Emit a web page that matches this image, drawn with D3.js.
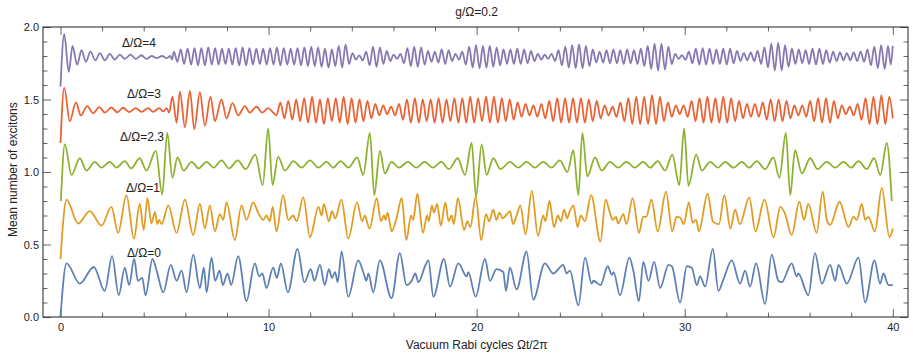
<!DOCTYPE html>
<html>
<head>
<meta charset="utf-8">
<script src="https://cdn.jsdelivr.net/npm/d3@7"></script>
<style>
body { margin: 0; background: #fff; }
svg { display: block; font-family: "Liberation Sans", Arial, sans-serif; }
</style>
</head>
<body>
<div id="chart-area"></div>
<script>
// values: [t (Rabi cycles), mean number]
let seriesD0 = [[0,0],[0.29,0.37],[0.93,0.23],[1.60,0.345],[2.13,0.18],[2.48,0.42],[2.80,0.15],[3.09,0.34],[3.30,0.22],[3.54,0.40],[3.72,0.25],[3.93,0.27],[4.09,0.15],[4.42,0.40],[4.62,0.32],[4.94,0.17],[5.30,0.36],[5.58,0.25],[5.82,0.32],[6.06,0.17],[6.38,0.43],[6.70,0.20],[6.89,0.34],[7.02,0.17],[7.26,0.41],[7.43,0.25],[7.65,0.32],[7.80,0.22],[8.03,0.30],[8.20,0.22],[8.54,0.42],[8.94,0.11],[9.34,0.37],[9.55,0.28],[9.70,0.30],[9.90,0.20],[10.22,0.34],[10.40,0.27],[10.59,0.37],[10.93,0.17],[11.39,0.47],[11.72,0.24],[12.03,0.33],[12.20,0.25],[12.47,0.36],[12.70,0.22],[12.90,0.33],[13.05,0.27],[13.20,0.31],[13.32,0.24],[13.51,0.45],[13.83,0.14],[14.31,0.39],[14.55,0.31],[14.70,0.25],[14.80,0.30],[15.03,0.17],[15.35,0.39],[15.91,0.13],[16.31,0.44],[16.63,0.22],[16.88,0.25],[17.05,0.30],[17.20,0.24],[17.55,0.36],[17.68,0.39],[17.92,0.14],[18.43,0.40],[18.72,0.21],[19.12,0.37],[19.52,0.28],[19.60,0.31],[19.95,0.14],[20.40,0.40],[20.64,0.25],[20.96,0.33],[21.28,0.31],[21.41,0.18],[21.60,0.34],[21.92,0.19],[22.40,0.45],[22.72,0.12],[23.28,0.37],[23.68,0.30],[24.16,0.36],[24.32,0.30],[24.48,0.32],[24.89,0.08],[25.21,0.41],[25.53,0.23],[25.61,0.25],[25.95,0.22],[26.30,0.35],[26.50,0.29],[26.58,0.31],[26.89,0.15],[27.34,0.41],[27.53,0.32],[27.80,0.11],[28.01,0.38],[28.26,0.25],[28.53,0.38],[28.82,0.20],[29.22,0.36],[29.38,0.35],[29.78,0.10],[30.10,0.35],[30.34,0.34],[30.58,0.22],[30.74,0.28],[30.98,0.21],[31.35,0.47],[31.62,0.18],[31.86,0.26],[32.26,0.39],[32.66,0.23],[32.90,0.32],[33.14,0.21],[33.43,0.37],[33.86,0.09],[34.18,0.43],[34.50,0.25],[34.66,0.24],[35.14,0.37],[35.38,0.28],[35.46,0.30],[35.94,0.15],[36.26,0.44],[36.59,0.23],[36.99,0.36],[37.23,0.25],[37.39,0.36],[37.79,0.23],[38.35,0.41],[38.67,0.10],[39.12,0.39],[39.39,0.23],[39.55,0.30],[39.79,0.22],[40.0,0.22]];

let seriesD1 = [[0,0.40],[0.29,0.81],[0.85,0.645],[1.41,0.73],[1.97,0.63],[2.45,0.76],[2.77,0.58],[3.17,0.84],[3.53,0.54],[3.81,0.78],[4.00,0.60],[4.18,0.82],[4.37,0.645],[4.54,0.725],[4.65,0.64],[4.74,0.67],[4.86,0.64],[5.18,0.77],[5.58,0.58],[5.98,0.81],[6.38,0.565],[6.70,0.78],[6.94,0.61],[7.18,0.77],[7.42,0.59],[7.66,0.71],[7.82,0.67],[7.98,0.79],[8.38,0.53],[8.70,0.77],[8.94,0.67],[9.26,0.79],[9.50,0.72],[9.75,0.67],[9.90,0.70],[10.06,0.66],[10.20,0.76],[10.38,0.59],[10.70,0.84],[10.95,0.67],[11.18,0.70],[11.35,0.66],[11.67,0.825],[11.99,0.55],[12.40,0.76],[12.55,0.70],[12.66,0.78],[12.90,0.66],[13.05,0.73],[13.20,0.68],[13.50,0.81],[13.83,0.54],[14.25,0.79],[14.50,0.66],[14.62,0.70],[14.85,0.61],[15.20,0.82],[15.40,0.66],[15.55,0.70],[15.62,0.67],[15.72,0.72],[15.92,0.59],[16.15,0.68],[16.40,0.82],[16.62,0.53],[16.85,0.70],[16.95,0.67],[17.15,0.85],[17.42,0.58],[17.62,0.70],[17.70,0.66],[17.85,0.77],[17.95,0.72],[18.10,0.78],[18.28,0.63],[18.50,0.79],[18.65,0.66],[18.80,0.70],[18.90,0.64],[19.10,0.82],[19.40,0.60],[19.55,0.66],[19.70,0.62],[19.95,0.83],[20.22,0.53],[20.45,0.71],[20.60,0.66],[20.80,0.74],[20.95,0.67],[21.10,0.72],[21.25,0.68],[21.40,0.70],[21.60,0.73],[21.75,0.64],[21.92,0.70],[22.10,0.77],[22.35,0.57],[22.65,0.87],[22.95,0.56],[23.20,0.70],[23.30,0.66],[23.50,0.80],[23.72,0.62],[23.90,0.70],[24.05,0.66],[24.20,0.74],[24.35,0.68],[24.45,0.72],[24.65,0.77],[24.85,0.62],[25.00,0.70],[25.20,0.66],[25.50,0.84],[25.95,0.52],[26.20,0.81],[26.40,0.72],[26.55,0.67],[26.70,0.69],[26.80,0.645],[27.05,0.71],[27.20,0.64],[27.50,0.82],[27.80,0.58],[28.00,0.69],[28.15,0.69],[28.40,0.81],[28.70,0.59],[29.10,0.865],[29.40,0.59],[29.60,0.69],[29.78,0.685],[29.95,0.64],[30.20,0.79],[30.38,0.65],[30.55,0.67],[30.68,0.59],[31.10,0.85],[31.35,0.66],[31.50,0.645],[31.65,0.64],[31.90,0.84],[32.20,0.61],[32.42,0.74],[32.65,0.64],[33.10,0.825],[33.40,0.59],[33.83,0.81],[34.27,0.55],[34.59,0.76],[34.80,0.72],[35.14,0.565],[35.51,0.795],[35.73,0.67],[35.94,0.78],[36.34,0.58],[36.63,0.865],[36.83,0.67],[36.99,0.635],[37.44,0.795],[37.87,0.62],[38.11,0.69],[38.27,0.67],[38.51,0.78],[38.67,0.67],[38.83,0.69],[39.14,0.59],[39.47,0.89],[39.84,0.55],[40.0,0.61]];

let seriesD23 = [[0.02,0.80],[0.21,1.19],[0.53,0.98],[0.93,1.095],[1.25,1.01],[1.65,1.07],[1.97,1.03],[2.37,1.07],[2.69,1.03],[3.09,1.075],[3.40,1.025],[3.81,1.095],[4.13,1.01],[4.58,1.145],[4.89,0.845],[5.13,1.27],[5.38,0.96],[5.62,1.10],[5.92,1.01],[6.30,1.07],[6.64,1.025],[7.02,1.07],[7.36,1.03],[7.74,1.08],[8.10,1.025],[8.52,1.08],[8.90,1.02],[9.36,1.12],[9.72,0.91],[9.98,1.30],[10.19,0.91],[10.46,1.105],[10.79,1.01],[11.19,1.075],[11.59,1.03],[11.99,1.08],[12.39,1.03],[12.79,1.07],[13.11,1.03],[13.46,1.075],[13.84,1.03],[14.26,1.10],[14.55,0.98],[14.87,1.27],[15.08,0.84],[15.35,1.145],[15.59,0.99],[15.91,1.07],[16.27,1.03],[16.70,1.07],[17.10,1.03],[17.50,1.07],[17.90,1.03],[18.30,1.07],[18.67,1.02],[19.09,1.095],[19.44,0.98],[19.76,1.20],[19.97,0.83],[20.24,1.19],[20.48,0.98],[20.80,1.095],[21.14,1.02],[21.60,1.07],[22.00,1.03],[22.40,1.07],[22.80,1.03],[23.20,1.07],[23.60,1.03],[24.00,1.08],[24.36,1.00],[24.65,1.15],[24.89,0.84],[25.08,1.27],[25.32,0.97],[25.69,1.10],[26.01,1.01],[26.41,1.07],[26.80,1.03],[27.20,1.07],[27.60,1.03],[28.00,1.07],[28.35,1.03],[28.70,1.075],[29.06,1.01],[29.40,1.12],[29.74,0.91],[29.97,1.30],[30.18,0.905],[30.55,1.12],[30.82,1.01],[31.22,1.07],[31.60,1.03],[31.94,1.07],[32.35,1.03],[32.74,1.07],[33.10,1.03],[33.46,1.075],[33.86,1.02],[34.26,1.10],[34.55,0.96],[34.86,1.27],[35.07,0.84],[35.30,1.15],[35.63,0.99],[36.03,1.095],[36.38,1.02],[36.83,1.07],[37.23,1.03],[37.63,1.07],[38.00,1.03],[38.35,1.075],[38.75,1.02],[39.10,1.095],[39.40,0.98],[39.71,1.20],[39.95,0.80]];

let seriesD3 = [[0,1.20],[0.18,1.58],[0.45,1.35],[0.74,1.48],[0.98,1.39],[1.28,1.455],[1.57,1.405],[1.86,1.447],[2.13,1.41],[2.45,1.445],[2.73,1.412],[3.01,1.443],[3.30,1.413],[3.62,1.44],[3.90,1.415],[4.21,1.44],[4.46,1.415],[4.74,1.44],[4.95,1.418],[5.10,1.44],[5.22,1.41],[5.38,1.52],[5.58,1.34],[5.74,1.555],[5.98,1.31],[6.22,1.56],[6.43,1.295],[6.70,1.55],[6.94,1.32],[7.21,1.52],[7.42,1.35],[7.74,1.50],[7.98,1.37],[8.27,1.475],[8.54,1.39],[8.86,1.455],[9.10,1.41],[9.42,1.45],[9.70,1.41],[9.98,1.44],[10.22,1.41],[10.38,1.39],
  [10.57,1.48],[10.76,1.37],[10.95,1.49],[11.14,1.36],[11.33,1.50],[11.52,1.35],[11.71,1.51],[11.90,1.34],[12.09,1.52],[12.28,1.34],[12.47,1.50],[12.66,1.33],[12.85,1.51],[13.04,1.35],[13.23,1.51],[13.42,1.34],[13.61,1.52],[13.80,1.33],[13.99,1.51],[14.18,1.34],[14.37,1.50],[14.56,1.35],[14.75,1.49],[14.94,1.37],[15.13,1.47],[15.32,1.39],[15.51,1.46],[15.70,1.40],[15.89,1.45],[16.08,1.39],[16.27,1.47],[16.46,1.36],[16.65,1.50],[16.84,1.34],[17.03,1.51],[17.22,1.34],[17.41,1.50],[17.60,1.35],[17.79,1.50],[17.98,1.34],[18.17,1.51],[18.36,1.34],[18.55,1.50],[18.74,1.35],[18.93,1.51],[19.12,1.34],[19.31,1.51],[19.50,1.34],[19.69,1.52],[19.88,1.34],[20.07,1.51],[20.26,1.35],[20.45,1.52],[20.64,1.34],[20.83,1.52],[21.02,1.34],[21.21,1.51],[21.40,1.35],[21.59,1.50],[21.78,1.36],[21.97,1.48],[22.16,1.38],[22.35,1.47],[22.54,1.39],[22.73,1.46],[22.92,1.38],[23.11,1.47],[23.30,1.37],[23.49,1.49],[23.68,1.35],[23.87,1.51],[24.06,1.34],[24.25,1.51],[24.44,1.34],[24.63,1.51],[24.82,1.34],[25.01,1.51],[25.20,1.34],[25.39,1.50],[25.58,1.35],[25.77,1.49],[25.96,1.37],[26.15,1.46],[26.34,1.39],[26.53,1.45],[26.72,1.38],[26.91,1.48],[27.10,1.35],[27.29,1.51],[27.48,1.33],[27.67,1.52],[27.86,1.33],[28.05,1.52],[28.24,1.33],[28.43,1.53],[28.62,1.33],[28.81,1.52],[29.00,1.35],[29.19,1.48],[29.38,1.38],[29.57,1.46],[29.76,1.40],[29.95,1.46],[30.14,1.38],[30.33,1.49],[30.52,1.35],[30.71,1.51],[30.90,1.34],[31.09,1.52],[31.28,1.34],[31.47,1.51],[31.66,1.34],[31.85,1.52],[32.04,1.34],[32.23,1.51],[32.42,1.35],[32.61,1.49],[32.80,1.37],[32.99,1.47],[33.18,1.38],[33.37,1.47],[33.56,1.38],[33.75,1.48],[33.94,1.36],[34.13,1.50],[34.32,1.35],[34.51,1.50],[34.70,1.35],[34.89,1.49],[35.08,1.37],[35.27,1.46],[35.46,1.39],[35.65,1.46],[35.84,1.38],[36.03,1.49],[36.22,1.35],[36.41,1.51],[36.60,1.34],[36.79,1.51],[36.98,1.34],[37.17,1.49],[37.36,1.37],[37.55,1.46],[37.74,1.40],[37.93,1.45],[38.12,1.39],[38.31,1.47],[38.50,1.36],[38.69,1.51],[38.88,1.33],[39.07,1.52],[39.26,1.33],[39.45,1.53],[39.64,1.33],[39.83,1.52],[40.0,1.37]];

let seriesD4 = [[0,1.59],[0.18,1.95],[0.40,1.69],[0.58,1.87],[0.80,1.74],[1.01,1.84],[1.22,1.76],[1.44,1.83],[1.68,1.77],[1.89,1.82],[2.13,1.77],[2.37,1.815],[2.61,1.775],[2.85,1.81],[3.09,1.78],[3.37,1.81],[3.62,1.78],[3.89,1.805],[4.13,1.78],[4.38,1.80],[4.62,1.785],[4.89,1.80],[5.10,1.785],[5.28,1.80],[5.36,1.775],
  [5.45,1.83],[5.62,1.76],[5.78,1.845],[5.94,1.745],[6.11,1.85],[6.28,1.74],[6.44,1.855],[6.61,1.735],[6.77,1.855],[6.94,1.735],[7.10,1.86],[7.27,1.74],[7.43,1.855],[7.60,1.74],[7.76,1.85],[7.93,1.745],[8.09,1.85],[8.26,1.74],[8.42,1.855],[8.59,1.735],[8.75,1.86],[8.92,1.735],[9.08,1.855],[9.25,1.74],[9.41,1.85],[9.58,1.745],[9.74,1.85],[9.91,1.74],[10.07,1.855],[10.24,1.74],[10.40,1.86],[10.57,1.735],[10.73,1.855],[10.90,1.74],[11.06,1.85],[11.23,1.74],[11.39,1.855],[11.56,1.735],[11.72,1.86],[11.89,1.73],[12.05,1.865],[12.22,1.73],[12.38,1.86],[12.55,1.725],[12.71,1.85],[12.88,1.72],[13.04,1.845],[13.21,1.73],[13.37,1.87],[13.54,1.72],[13.70,1.88],[13.87,1.745],[14.03,1.82],[14.20,1.775],[14.36,1.805],[14.53,1.77],[14.69,1.83],[14.86,1.735],[15.02,1.865],[15.19,1.725],[15.35,1.86],[15.52,1.745],[15.68,1.835],[15.85,1.765],[16.01,1.81],[16.18,1.78],[16.34,1.815],[16.51,1.75],[16.67,1.855],[16.84,1.73],[17.00,1.865],[17.17,1.725],[17.33,1.86],[17.50,1.74],[17.66,1.835],[17.83,1.76],[17.99,1.83],[18.16,1.755],[18.32,1.845],[18.49,1.745],[18.65,1.84],[18.82,1.765],[18.98,1.815],[19.15,1.775],[19.31,1.83],[19.48,1.74],[19.64,1.865],[19.81,1.72],[19.97,1.875],[20.14,1.715],[20.30,1.87],[20.47,1.72],[20.63,1.87],[20.80,1.725],[20.96,1.86],[21.13,1.735],[21.29,1.845],[21.46,1.745],[21.62,1.845],[21.79,1.745],[21.95,1.85],[22.12,1.745],[22.28,1.845],[22.45,1.75],[22.61,1.835],[22.78,1.765],[22.94,1.815],[23.11,1.775],[23.27,1.81],[23.44,1.78],[23.60,1.815],[23.77,1.765],[23.93,1.84],[24.10,1.735],[24.26,1.865],[24.43,1.72],[24.59,1.875],[24.76,1.715],[24.92,1.88],[25.09,1.715],[25.25,1.87],[25.42,1.73],[25.58,1.845],[25.75,1.755],[25.91,1.83],[26.08,1.755],[26.24,1.84],[26.41,1.75],[26.57,1.845],[26.74,1.75],[26.90,1.84],[27.07,1.745],[27.23,1.845],[27.40,1.75],[27.56,1.84],[27.73,1.745],[27.89,1.85],[28.06,1.73],[28.22,1.87],[28.39,1.71],[28.55,1.885],[28.72,1.70],[28.88,1.885],[29.05,1.705],[29.21,1.865],[29.38,1.745],[29.54,1.815],[29.71,1.78],[29.87,1.805],[30.04,1.775],[30.20,1.83],[30.37,1.75],[30.53,1.85],[30.70,1.74],[30.86,1.855],[31.03,1.74],[31.19,1.85],[31.36,1.745],[31.52,1.845],[31.69,1.745],[31.85,1.85],[32.02,1.74],[32.18,1.85],[32.35,1.75],[32.51,1.835],[32.68,1.765],[32.84,1.82],[33.01,1.77],[33.17,1.825],[33.34,1.765],[33.50,1.835],[33.67,1.745],[33.83,1.86],[34.00,1.72],[34.16,1.885],[34.33,1.70],[34.49,1.89],[34.66,1.70],[34.82,1.875],[34.99,1.725],[35.15,1.85],[35.32,1.745],[35.48,1.845],[35.65,1.75],[35.81,1.84],[35.98,1.745],[36.14,1.85],[36.31,1.74],[36.47,1.85],[36.64,1.745],[36.80,1.84],[36.97,1.755],[37.13,1.83],[37.30,1.765],[37.46,1.825],[37.63,1.77],[37.79,1.82],[37.96,1.77],[38.12,1.825],[38.29,1.765],[38.45,1.83],[38.62,1.76],[38.78,1.845],[38.95,1.735],[39.11,1.865],[39.28,1.715],[39.44,1.875],[39.61,1.71],[39.77,1.87],[39.90,1.74],[40.0,1.87]];

let seriesList = [seriesD0, seriesD1, seriesD23, seriesD3, seriesD4];
let seriesNames = ["\u0394/\u03A9=0", "\u0394/\u03A9=1", "\u0394/\u03A9=2.3", "\u0394/\u03A9=3", "\u0394/\u03A9=4"];
let seriesColors = ["#5E81B5", "#E19C24", "#8FB131", "#EB6235", "#8778B3"];

let xMajor = [0, 10, 20, 30, 40];
let xMinor = [2, 4, 6, 8, 12, 14, 16, 18, 22, 24, 26, 28, 32, 34, 36, 38];
let yMajor = [0, 0.5, 1, 1.5, 2];
let yMinor = [0.1, 0.2, 0.3, 0.4, 0.6, 0.7, 0.8, 0.9, 1.1, 1.2, 1.3, 1.4, 1.6, 1.7, 1.8, 1.9];

let titleText = "g/\u03A9=0.2";
let xTitle = "Vacuum Rabi cycles \u03A9t/2\u03C0";
let yTitle = "Mean number of excitons";

let margin = { left: 43, top: 27, right: 5, bottom: 38 };
let width = 913 - margin.left - margin.right;
let height = 355 - margin.top - margin.bottom;

let svg = d3.select("#chart-area")
	.append("svg")
	.attr("width", 913)
	.attr("height", 355);

let g = svg.append("g")
	.attr("transform", `translate(${margin.left}, ${margin.top})`);

let x = d3.scaleLinear().domain([-0.84, 40.73]).range([0, width]);
let y = d3.scaleLinear().domain([0, 2]).range([height, 0]);

svg.append("defs").append("clipPath").attr("id", "clip")
	.append("rect").attr("width", width).attr("height", height);

// frame ticks, all pointing inward
function tickAxis(axis, values, size, fmt, transform) {
	let a = g.append("g")
		.attr("transform", transform)
		.call(axis.tickValues(values).tickSizeInner(-size).tickSizeOuter(0).tickFormat(fmt));
	a.select(".domain").remove();
	a.selectAll("line").attr("stroke", "#666");
	a.selectAll("text").attr("fill", "#222").style("font-size", "11px")
		.style("font-family", "'Liberation Sans', Arial, sans-serif");
	return a;
}

tickAxis(d3.axisBottom(x).tickPadding(6), xMajor, 8, d3.format("d"), `translate(0, ${height})`);
tickAxis(d3.axisBottom(x), xMinor, 4.5, "", `translate(0, ${height})`);
tickAxis(d3.axisTop(x), xMajor, 8, "", "translate(0, 0)");
tickAxis(d3.axisTop(x), xMinor, 4.5, "", "translate(0, 0)");
tickAxis(d3.axisLeft(y).tickPadding(4), yMajor, 8, d3.format(".1f"), "translate(0, 0)");
tickAxis(d3.axisLeft(y), yMinor, 4.5, "", "translate(0, 0)");
tickAxis(d3.axisRight(y), yMajor, 8, "", `translate(${width}, 0)`);
tickAxis(d3.axisRight(y), yMinor, 4.5, "", `translate(${width}, 0)`);

let line = d3.line()
	.x(function(d){ return x(d[0]); })
	.y(function(d){ return y(d[1]); })
	.curve(d3.curveMonotoneX);

g.append("g").attr("clip-path", "url(#clip)")
	.selectAll("path")
	.data(seriesList)
	.enter().append("path")
	.attr("fill", "none")
	.attr("stroke", function(d, i){ return seriesColors[i]; })
	.attr("stroke-width", 1.8)
	.attr("stroke-linejoin", "round")
	.attr("d", line);

g.append("rect")
	.attr("width", width)
	.attr("height", height)
	.attr("fill", "none")
	.attr("stroke", "#222")
	.attr("stroke-width", 1);

// curve labels (pixel positions)
let labelPos = [[127, 257], [126, 192], [120, 141], [127, 98], [122, 47]];
seriesNames.forEach(function(name, i){
	svg.append("text")
		.attr("x", labelPos[i][0])
		.attr("y", labelPos[i][1])
		.attr("fill", "#222")
		.style("font-size", "12px")
		.text(name);
});

svg.append("text")
	.attr("x", margin.left + x(20))
	.attr("y", 16)
	.attr("text-anchor", "middle")
	.attr("fill", "#222")
	.style("font-size", "12px")
	.text(titleText);

svg.append("text")
	.attr("x", margin.left + x(20))
	.attr("y", 349)
	.attr("text-anchor", "middle")
	.attr("fill", "#222")
	.style("font-size", "12px")
	.text(xTitle);

svg.append("text")
	.attr("transform", "translate(17, 237) rotate(-90)")
	.attr("text-anchor", "start")
	.attr("fill", "#222")
	.style("font-size", "12px")
	.text(yTitle);
</script>
</body>
</html>
